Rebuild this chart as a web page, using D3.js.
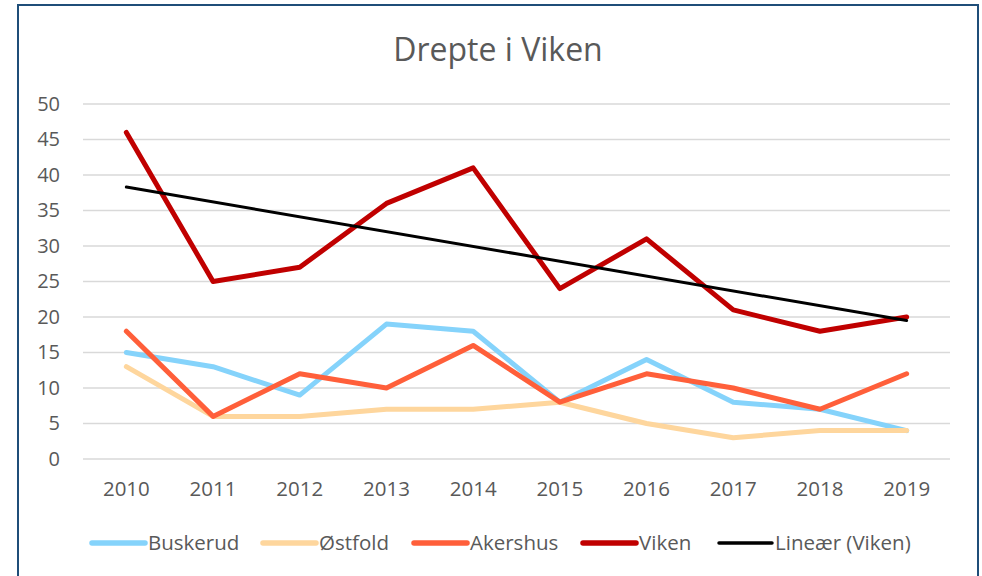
<!DOCTYPE html>
<html>
<head>
<meta charset="utf-8">
<script src="https://cdn.jsdelivr.net/npm/d3@7"></script>
<style>
  body { margin: 0; background: #fff; }
  svg { display: block; font-family: "Open Sans", sans-serif; }
</style>
</head>
<body>
<svg id="chart" width="982" height="576"></svg>
<script>
var years = ['2010','2011','2012','2013','2014','2015','2016','2017','2018','2019'];
var buskerud = [15, 13, 9, 19, 18, 8, 14, 8, 7, 4];
var ostfold  = [13, 6, 6, 7, 7, 8, 5, 3, 4, 4];
var akershus = [18, 6, 12, 10, 16, 8, 12, 10, 7, 12];
var viken    = [46, 25, 27, 36, 41, 24, 31, 21, 18, 20];
// trend line endpoints (2010, 2019)
var trendViken = [38.3, 19.5];
var yTicks = [0, 5, 10, 15, 20, 25, 30, 35, 40, 45, 50];

var series = [
  {name: 'Buskerud', values: buskerud, color: '#85d3fb'},
  {name: 'Østfold',  values: ostfold,  color: '#fed69d'},
  {name: 'Akershus', values: akershus, color: '#ff5f3a'},
  {name: 'Viken',    values: viken,    color: '#c00000'}
];

var svg = d3.select('#chart');

// outer frame
svg.append('rect')
   .attr('x', 18).attr('y', 5)
   .attr('width', 960).attr('height', 600)
   .attr('fill', 'none')
   .attr('stroke', '#1f4e79')
   .attr('stroke-width', 2);

svg.append('text')
   .attr('x', 498).attr('y', 61)
   .attr('text-anchor', 'middle')
   .attr('font-size', 32)
   .attr('fill', '#595959')
   .text('Drepte i Viken');

var x = d3.scaleBand().domain(years).range([83, 950]);
var y = d3.scaleLinear().domain([0, 50]).range([459, 104]);
var cx = d => x(d) + x.bandwidth() / 2;

// gridlines
svg.append('g').selectAll('line')
   .data(yTicks)
   .enter().append('line')
   .attr('x1', 83).attr('x2', 950)
   .attr('y1', d => y(d)).attr('y2', d => y(d))
   .attr('stroke', '#d9d9d9')
   .attr('stroke-width', 1.5);

var yAxis = svg.append('g')
   .attr('transform', 'translate(64,0)')
   .call(d3.axisLeft(y).tickValues(yTicks).tickSize(0).tickPadding(4));
yAxis.select('.domain').remove();
yAxis.selectAll('text')
   .attr('font-family', '"Open Sans", sans-serif')
   .attr('font-size', 20)
   .attr('fill', '#595959');

var xAxis = svg.append('g')
   .attr('transform', 'translate(0,459)')
   .call(d3.axisBottom(x).tickSize(0).tickPadding(22));
xAxis.select('.domain').remove();
xAxis.selectAll('text')
   .attr('font-family', '"Open Sans", sans-serif')
   .attr('font-size', 20.5)
   .attr('fill', '#595959');

var line = d3.line()
   .x((d, i) => cx(years[i]))
   .y(d => y(d));

svg.append('g').selectAll('path')
   .data(series)
   .enter().append('path')
   .attr('d', d => line(d.values))
   .attr('fill', 'none')
   .attr('stroke', d => d.color)
   .attr('stroke-width', 5)
   .attr('stroke-linecap', 'round')
   .attr('stroke-linejoin', 'round');

// linear trend for Viken
svg.append('line')
   .attr('x1', cx(years[0])).attr('y1', y(trendViken[0]))
   .attr('x2', cx(years[years.length - 1])).attr('y2', y(trendViken[1]))
   .attr('stroke', '#000')
   .attr('stroke-width', 3)
   .attr('stroke-linecap', 'round');

// legend
var legendItems = series.map(s => ({name: s.name, color: s.color, w: 5.5}))
   .concat([{name: 'Lineær (Viken)', color: '#000', w: 3.5}]);
var legendX = [92, 263, 414, 583, 719];

var lg = svg.append('g').selectAll('g')
   .data(legendItems)
   .enter().append('g')
   .attr('transform', (d, i) => 'translate(' + legendX[i] + ',543)');
lg.append('line')
   .attr('x1', 0).attr('x2', 53)
   .attr('stroke', d => d.color)
   .attr('stroke-width', d => d.w)
   .attr('stroke-linecap', 'round');
lg.append('text')
   .attr('x', 56).attr('y', 7)
   .attr('font-size', 20.5)
   .attr('fill', '#595959')
   .text(d => d.name);
</script>
</body>
</html>
